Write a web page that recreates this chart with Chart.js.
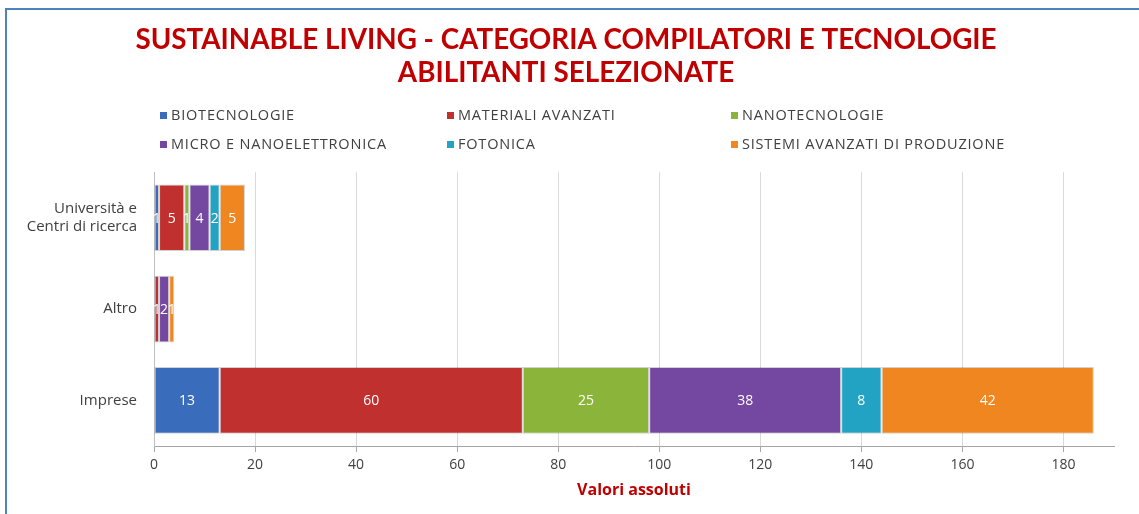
<!DOCTYPE html>
<html>
<head>
<meta charset="utf-8">
<script src="https://cdn.jsdelivr.net/npm/chart.js@4.4.0/dist/chart.umd.min.js"></script>
<style>
  html, body { margin: 0; padding: 0; background: #ffffff; overflow: hidden; }
  #wrap { position: relative; width: 1139px; height: 514px; }
  #frame { position: absolute; left: 5px; top: 8px; width: 1300px; height: 700px;
           border-left: 2px solid #4f81bd; border-top: 2px solid #4f81bd; box-sizing: border-box; pointer-events: none; }
  canvas { position: absolute; left: 0; top: 0; }
</style>
</head>
<body>
<div id="wrap">
  <canvas id="c" width="1139" height="514"></canvas>
  <div id="frame"></div>
</div>
<script>
const categories = [["Università e", "Centri di ricerca"], "Altro", "Imprese"];
const seriesNames = ["BIOTECNOLOGIE", "MATERIALI AVANZATI", "NANOTECNOLOGIE",
                     "MICRO E NANOELETTRONICA", "FOTONICA", "SISTEMI AVANZATI DI PRODUZIONE"];
const biotecnologie = [1, 0, 13];
const materialiAvanzati = [5, 1, 60];
const nanotecnologie = [1, 0, 25];
const microNanoelettronica = [4, 2, 38];
const fotonica = [2, 0, 8];
const sistemiAvanzati = [5, 1, 42];
const xTicks = [0, 20, 40, 60, 80, 100, 120, 140, 160, 180];
const xMax = 190;

const colors = ["#3a6cbc", "#c0302f", "#8ab43a", "#7447a0", "#22a3c3", "#f0861f"];
const seriesValues = [biotecnologie, materialiAvanzati, nanotecnologie,
                      microNanoelettronica, fotonica, sistemiAvanzati];

const FONT = "'Open Sans', Lato, sans-serif";
const TITLE_FONT = "Lato, 'Open Sans', sans-serif";

const dataLabels = {
  id: 'dataLabels',
  afterDatasetsDraw(chart) {
    const ctx = chart.ctx;
    ctx.save();
    ctx.font = "14px " + FONT;
    ctx.fillStyle = "#ffffff";
    ctx.textAlign = "center";
    ctx.textBaseline = "middle";
    chart.data.datasets.forEach((ds, i) => {
      const meta = chart.getDatasetMeta(i);
      meta.data.forEach((el, j) => {
        const v = ds.data[j];
        if (!v) return;
        const p = el.getCenterPoint();
        ctx.fillText(String(v), p.x, p.y + 1);
      });
    });
    ctx.restore();
  }
};

const gridLegend = {
  id: 'gridLegend',
  afterDraw(chart) {
    const ctx = chart.ctx;
    const colX = [160, 447, 731];
    const rowY = [116, 145];
    ctx.save();
    ctx.font = "14.5px " + FONT;
    if ('letterSpacing' in ctx) ctx.letterSpacing = "0.8px";
    ctx.textBaseline = "middle";
    ctx.textAlign = "left";
    chart.data.datasets.forEach((ds, i) => {
      const x = colX[i % 3], y = rowY[Math.floor(i / 3)];
      ctx.fillStyle = ds.backgroundColor;
      ctx.fillRect(x, y - 4, 7, 7);
      ctx.fillStyle = "#404040";
      ctx.fillText(ds.label, x + 11, y);
    });
    ctx.restore();
  }
};

const datasets = seriesNames.map((name, i) => ({
  label: name,
  data: seriesValues[i],
  backgroundColor: colors[i],
  borderColor: "rgba(0,0,0,0.18)",
  borderWidth: 1,
  borderSkipped: false,
  barPercentage: 0.73,
  categoryPercentage: 1.0
}));

new Chart(document.getElementById('c'), {
  type: 'bar',
  data: { labels: categories, datasets },
  options: {
    indexAxis: 'y',
    responsive: false,
    animation: false,
    events: [],
    layout: { padding: { left: 18, right: 25, top: 0, bottom: 0 } },
    plugins: {
      legend: { display: false },
      tooltip: { enabled: false },
      title: {
        display: true,
        text: ["SUSTAINABLE LIVING - CATEGORIA COMPILATORI E TECNOLOGIE", "ABILITANTI SELEZIONATE"],
        color: "#c00000",
        font: { family: TITLE_FONT, size: 27.8, weight: 'bold', lineHeight: 1.19 },
        padding: { top: 23, bottom: 83 }
      }
    },
    scales: {
      x: {
        stacked: true,
        min: 0,
        max: xMax,
        afterFit(scale) { scale.height = 68; },
        afterBuildTicks(scale) {
          scale.ticks = xTicks.concat([xMax]).map(v => ({ value: v }));
        },
        ticks: {
          color: "#404040",
          font: { family: FONT, size: 14 },
          padding: 5,
          callback: (v) => xTicks.includes(v) ? String(v) : ''
        },
        grid: {
          color: (c) => (c.tick && (c.tick.value === xMax || c.tick.value === 0)) ? 'rgba(0,0,0,0)' : '#d9d9d9',
          tickColor: (c) => (c.tick && c.tick.value === xMax) ? 'rgba(0,0,0,0)' : '#a6a6a6',
          tickLength: 6,
          drawTicks: true
        },
        border: { display: true, color: "#a6a6a6", width: 1 },
        title: {
          display: true,
          text: "Valori assoluti",
          color: "#c00000",
          font: { family: FONT, size: 16, weight: 'bold', lineHeight: 1.2 },
          padding: { top: 0, bottom: 14 }
        }
      },
      y: {
        stacked: true,
        afterFit(scale) { scale.width = 136; },
        ticks: {
          color: "#404040",
          font: { family: FONT, size: 15, lineHeight: 1.15 },
          padding: 17
        },
        grid: { display: false, drawTicks: false },
        border: { display: true, color: "#bfbfbf", width: 1 }
      }
    }
  },
  plugins: [dataLabels, gridLegend]
});
</script>
</body>
</html>
